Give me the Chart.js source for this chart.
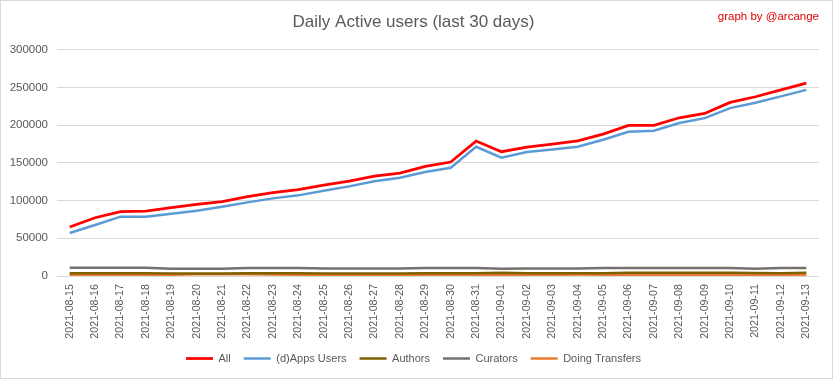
<!DOCTYPE html>
<html>
<head>
<meta charset="utf-8">
<script src="https://cdn.jsdelivr.net/npm/chart.js@4/dist/chart.umd.min.js"></script>
<style>
  html, body { margin: 0; padding: 0; background: #fff; }
  #wrap { width: 833px; height: 379px; box-sizing: border-box; border: 1px solid #d9d9d9; position: relative; }
  canvas { display: block; }
</style>
</head>
<body>
<div id="wrap"><canvas id="chart"></canvas></div>
<script>
// categories
var dates = ['2021-08-15','2021-08-16','2021-08-17','2021-08-18','2021-08-19','2021-08-20','2021-08-21',
  '2021-08-22','2021-08-23','2021-08-24','2021-08-25','2021-08-26','2021-08-27','2021-08-28','2021-08-29',
  '2021-08-30','2021-08-31','2021-09-01','2021-09-02','2021-09-03','2021-09-04','2021-09-05','2021-09-06',
  '2021-09-07','2021-09-08','2021-09-09','2021-09-10','2021-09-11','2021-09-12','2021-09-13'];

// series values
var allUsers = [65000, 77300, 85300, 86200, 90600, 95000, 98600, 105200, 110500, 114500, 120700, 126000,
  132600, 136600, 145400, 151200, 179000, 164900, 171100, 175000, 179400, 188300, 199800, 199800, 209900,
  215700, 230300, 237800, 247000, 255900];
var appsUsers = [57000, 67600, 78700, 78700, 82600, 86600, 91900, 97700, 103000, 107000, 113100, 118900,
  125600, 130400, 137900, 143600, 171500, 156900, 164500, 168000, 171500, 180800, 191400, 192700, 202900,
  209500, 222800, 229800, 238300, 247000];
var authors = [3500, 3500, 3500, 3500, 3300, 3300, 3300, 3500, 3500, 3500, 3300, 3300, 3300, 3300, 3500,
  3500, 3600, 4200, 3600, 3500, 3600, 3800, 4300, 4300, 4300, 4300, 4300, 4000, 3800, 4300];
var curators = [11000, 11000, 11000, 11000, 9500, 9500, 9500, 10500, 10500, 10500, 10000, 10000, 10000,
  10000, 10500, 10500, 10500, 9500, 9800, 9800, 9800, 10500, 10500, 10500, 10500, 10500, 10500, 9500,
  10500, 10500];
var transfers = [1800, 1800, 1800, 1800, 1700, 2200, 2200, 2200, 2000, 1600, 1600, 1600, 1600, 1600, 1600,
  1600, 1600, 1500, 1500, 1500, 1900, 1700, 1700, 1700, 1700, 1700, 1700, 1700, 1600, 1600];

// y ticks
var yMax = 300000;
var yStep = 50000;

var FONT = '"Liberation Sans", Arial, sans-serif';

// "graph by @arcange" tag in the top right corner
var signature = {
  id: 'signature',
  afterDraw: function (chart) {
    var ctx = chart.ctx;
    ctx.save();
    ctx.font = '11.5px ' + FONT;
    ctx.fillStyle = '#e00000';
    ctx.textAlign = 'right';
    ctx.textBaseline = 'middle';
    ctx.fillText('graph by @arcange', chart.width - 13, 16);
    ctx.restore();
  }
};

function line(label, data, color, width) {
  return {
    label: label,
    data: data,
    borderColor: color,
    backgroundColor: color,
    borderWidth: width,
    pointRadius: 0,
    tension: 0,
    fill: false
  };
}

new Chart(document.getElementById('chart').getContext('2d'), {
  type: 'line',
  data: {
    labels: dates,
    datasets: [
      line('All', allUsers, '#ff0000', 2.75),
      line('(d)Apps Users', appsUsers, '#5b9bd5', 2.5),
      line('Authors', authors, '#7f6000', 2.5),
      line('Curators', curators, '#767171', 2.5),
      line('Doing Transfers', transfers, '#ed7d31', 2.5)
    ]
  },
  options: {
    responsive: true,
    maintainAspectRatio: false,
    animation: false,
    layout: { padding: { left: 7, right: 13, top: 0, bottom: 4 } },
    plugins: {
      title: {
        display: true,
        text: 'Daily Active users (last 30 days)',
        color: '#595959',
        font: { family: FONT, size: 17, weight: 'normal' },
        padding: { top: 11, bottom: 17.5 }
      },
      legend: {
        position: 'bottom',
        labels: {
          usePointStyle: true,
          pointStyle: 'line',
          pointStyleWidth: 27,
          boxHeight: 2,
          color: '#595959',
          font: { family: FONT, size: 11 },
          padding: 13
        }
      },
      tooltip: { enabled: false }
    },
    scales: {
      x: {
        offset: true,
        grid: { display: false, drawTicks: false },
        border: { display: false },
        ticks: {
          color: '#595959',
          font: { family: FONT, size: 10.7 },
          minRotation: 90,
          maxRotation: 90,
          autoSkip: false,
          padding: 8
        },
        afterFit: function (scale) { scale.height = 64; }
      },
      y: {
        min: 0,
        max: yMax,
        grid: { color: '#d9d9d9', lineWidth: 1, drawTicks: false },
        border: { display: false },
        ticks: {
          stepSize: yStep,
          color: '#595959',
          font: { family: FONT, size: 11.5 },
          padding: 9,
          callback: function (v) { return String(v); }
        },
        afterFit: function (scale) { scale.width = 49; }
      }
    }
  },
  plugins: [signature]
});
</script>
</body>
</html>
